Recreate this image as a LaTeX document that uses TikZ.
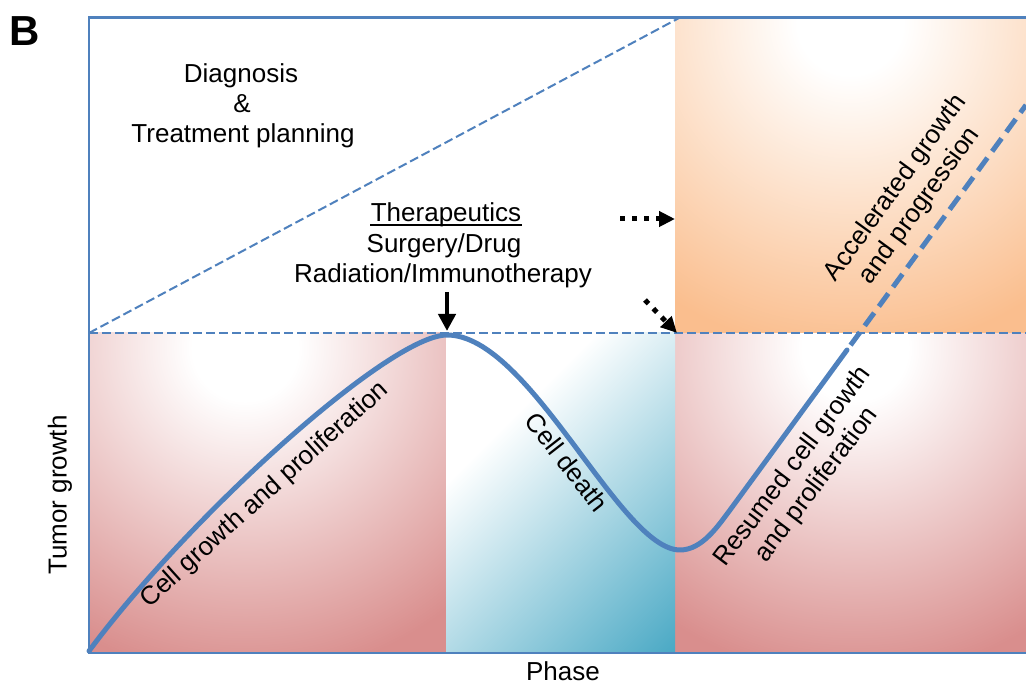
\documentclass[tikz,border=0pt]{standalone}
\usepackage{fontspec}
\setmainfont{Liberation Sans}
\usetikzlibrary{arrows.meta}
\definecolor{lineblue}{RGB}{79,129,189}
\definecolor{redend}{RGB}{217,142,141}
\definecolor{orangeend}{RGB}{250,190,142}
\definecolor{tealend}{RGB}{72,168,196}
\pgfdeclareradialshading{redglow}{\pgfpoint{0bp}{0bp}}{color(0bp)=(white); color(4bp)=(white); color(25bp)=(redend); color(50bp)=(redend)}
\pgfdeclareradialshading{orangeglow}{\pgfpoint{0bp}{0bp}}{color(0bp)=(white); color(4bp)=(white); color(25bp)=(orangeend); color(50bp)=(orangeend)}
\pgfdeclareverticalshading{cyanfade}{100bp}{color(0bp)=(tealend); color(30.5bp)=(tealend); color(44.7bp)=(white); color(100bp)=(white)}
\begin{document}
\begin{tikzpicture}[x=0.5pt,y=-0.5pt,
  lbl/.style={font=\fontsize{13}{15}\selectfont, inner sep=0pt},
  frameline/.style={draw=lineblue, line width=1.25pt},
  thindash/.style={draw=lineblue, line width=1pt, dash pattern=on 4.5pt off 2pt},
  curveline/.style={draw=lineblue, line width=2.5pt, line cap=round, line join=round},
  curvedash/.style={draw=lineblue, line width=2.5pt, dash pattern=on 8pt off 4pt, dash phase=9pt},
  solidarrow/.style={draw=black, line width=2.2pt, -{Triangle[length=8.5pt,width=8.5pt]}},
  dotarrow/.style={draw=black, line width=2.5pt, dash pattern=on 2.5pt off 3.5pt, -{Triangle[length=8pt,width=7.5pt]}}]
\useasboundingbox (0,0) rectangle (1026,683);
\fill[white] (0,0) rectangle (1026,683);
% left red region
\begin{scope}
\clip (89,333) rectangle (446,653);
\shade[shading=redglow] (-85,18) rectangle (575,678);
\end{scope}
% right red region
\begin{scope}
\clip (675,333) rectangle (1026,653);
\shade[shading=redglow] (525,18) rectangle (1185,678);
\end{scope}
% orange region
\begin{scope}
\clip (675,17.5) rectangle (1026,333);
\shade[shading=orangeglow] (520,-308) rectangle (1180,352);
\end{scope}
% cyan region
\begin{scope}
\clip (446,333) rectangle (675,653);
\begin{scope}[transform canvas={rotate around={45:(446,333)}}]
\shade[shading=cyanfade] (-54,-167) rectangle (946,833);
\end{scope}
\end{scope}
% dashed guides
\draw[thindash] (89,333) -- (1026,333);
\draw[thindash] (89,333) -- (680,17.5);
% frame
\draw[frameline] (1026,17.5) -- (89,17.5) -- (89,653) -- (1026,653);
% tumor curve
\draw[curveline] (89,651) .. controls (190,515) and (390,335) .. (447,335)
  .. controls (530,335) and (620,550) .. (680,550)
  .. controls (702,550) and (718,526) .. (730,510) -- (847,350);
\draw[curvedash] (847,350) -- (1026,105);
% texts
\node[lbl, font=\bfseries\fontsize{21}{24}\selectfont] (B) at (25,31) {B};
\node[lbl, anchor=base] (diag) at (241,83) {Diagnosis};
\node[lbl, anchor=base] (amp) at (242,113) {\&};
\node[lbl, anchor=base] (plan) at (243,143) {Treatment planning};
\node[lbl, anchor=base] (ther) at (446,222) {Therapeutics};
\draw[line width=0.7pt] ([yshift=-1.6pt]ther.base west) -- ([yshift=-1.6pt]ther.base east);
\node[lbl, anchor=base] (surg) at (444,253) {Surgery/Drug};
\node[lbl, anchor=base] (rad) at (443,283) {Radiation/Immunotherapy};
\node[lbl, rotate=90] (ylab) at (60,495) {Tumor growth};
\node[lbl, anchor=base] (xlab) at (563,680) {Phase};
\node[lbl, rotate=42] (cg) at (265,495) {Cell growth and proliferation};
\node[lbl, rotate=-52] (cd) at (567,462) {Cell death};
\node[lbl, rotate=53, align=center] (rg) at (805,476) {Resumed cell growth\\and proliferation};
\node[lbl, rotate=54, align=center] (ag) at (908,197) {Accelerated growth\\and progression};
% arrows
\coordinate (tstart) at (447,292);
\coordinate (peak) at (447,331);
\draw[solidarrow] (tstart) -- (peak);
\coordinate (d1s) at (620,219);
\coordinate (d1e) at (675,219);
\draw[dotarrow] (d1s) -- (d1e);
\coordinate (d2s) at (645,300);
\coordinate (d2e) at (677,333);
\draw[dotarrow] (d2s) -- (d2e);
\end{tikzpicture}
\end{document}
